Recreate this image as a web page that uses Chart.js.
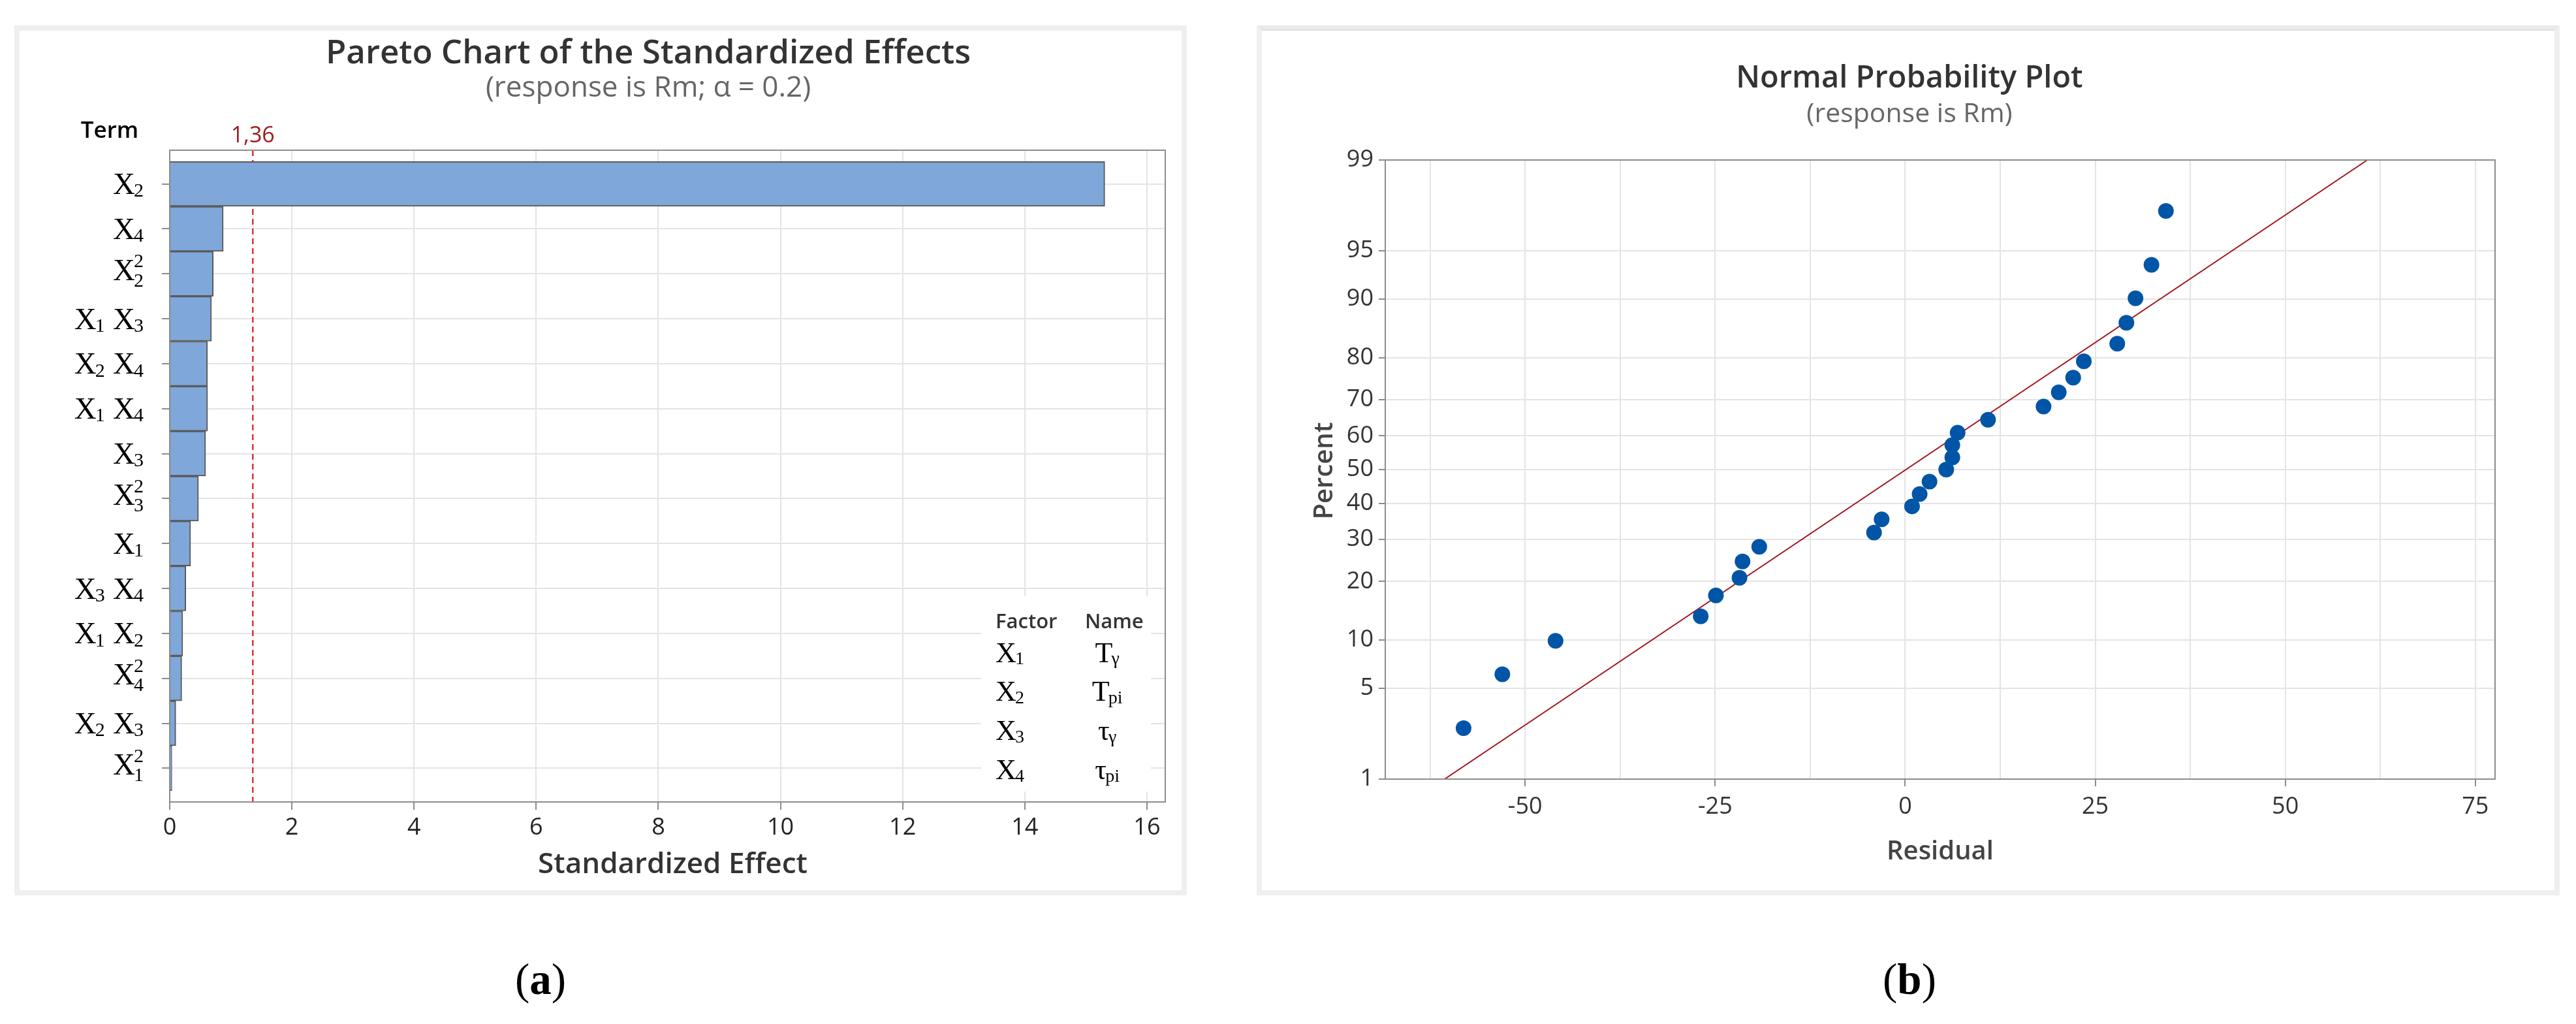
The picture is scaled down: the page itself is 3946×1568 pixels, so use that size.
<!DOCTYPE html>
<html>
<head>
<meta charset="utf-8">
<script src="https://cdn.jsdelivr.net/npm/chart.js@4.4.1/dist/chart.umd.min.js"></script>
<style>
  body { margin: 0; width: 3946px; height: 1568px; background: #fff; position: relative; overflow: hidden; }
  .panel { position: absolute; top: 39px; height: 1332px; border: 8px solid #efefef; box-sizing: border-box; background: #fff; }
  .holder { position: absolute; top: 47px; height: 1316px; }
  .caption { position: absolute; top: 1466px; font: 67px/67px "Liberation Serif", serif; transform: translateX(-50%); color: #000; }
</style>
</head>
<body>
<div class="panel" style="left:22px; width:1796px;"></div>
<div class="panel" style="left:1925px; width:1996px; border-top-color:#e9e9e9;"></div>
<div class="holder" style="left:30px; width:1780px;"><canvas id="pareto"></canvas></div>
<div class="holder" style="left:1933px; width:1980px; border-top:2px solid #dedede; top:45px;"><canvas id="normal"></canvas></div>
<div class="caption" style="left:828px;">(<b>a</b>)</div>
<div class="caption" style="left:2925px;">(<b>b</b>)</div>

<script>
// ============================================================
// (a) Pareto chart of the standardized effects
// Term labels use a tiny syntax: "X_2^2" = X, subscript 2, superscript 2
// ============================================================
const TERMS = ["X_2", "X_4", "X_2^2", "X_1 X_3", "X_2 X_4", "X_1 X_4", "X_3",
               "X_3^2", "X_1", "X_3 X_4", "X_1 X_2", "X_4^2", "X_2 X_3", "X_1^2"];
const EFFECTS = [15.31, 0.877, 0.713, 0.684, 0.617, 0.62, 0.588,
                 0.471, 0.342, 0.264, 0.214, 0.197, 0.10, 0.036];
const EFFECT_TICKS = [0, 2, 4, 6, 8, 10, 12, 14, 16];
const CRITICAL_EFFECT = 1.36;
const FACTORS = ["X_1", "X_2", "X_3", "X_4"];
const FACTOR_NAMES = ["T_γ", "T_pi", "τ_γ", "τ_pi"];

// ============================================================
// (b) Normal probability plot of the residuals
// ============================================================
const RESIDUALS = [-58.1, -53.0, -46.0, -26.9, -24.9, -21.8, -21.4, -19.2, -4.1, -3.1,
                   0.9, 1.9, 3.2, 5.4, 6.2, 6.2, 6.9, 10.9, 18.2, 20.2,
                   22.1, 23.5, 27.9, 29.1, 30.3, 32.4, 34.3];
const PERCENTS = [2.6, 6.2, 9.9, 13.5, 17.2, 20.8, 24.5, 28.1, 31.8, 35.4,
                  39.1, 42.7, 46.4, 50.0, 53.6, 57.3, 60.9, 64.6, 68.2, 71.9,
                  75.5, 79.2, 82.8, 86.5, 90.1, 93.8, 97.4];
const FIT_RESIDUALS = [-60.6, 60.8];
const FIT_PERCENTS = [1, 99];
const RESIDUAL_TICKS = [-62.5, -50, -37.5, -25, -12.5, 0, 12.5, 25, 37.5, 50, 62.5, 75];
const PERCENT_TICKS = [1, 5, 10, 20, 30, 40, 50, 60, 70, 80, 90, 95, 99];

const SANS = "'Open Sans', 'Noto Sans', sans-serif";
const SERIF = "'Liberation Serif', 'DejaVu Serif', serif";
const GRID = "#e4e4e4";
const AXIS = "#8c8c8c";

// ------------------------------------------------------------
// Inverse normal CDF (Acklam). Used by the probability axis.
// ------------------------------------------------------------
function probit(p) {
  const a = [-3.969683028665376e+01, 2.209460984245205e+02, -2.759285104469687e+02, 1.383577518672690e+02, -3.066479806614716e+01, 2.506628277459239e+00];
  const b = [-5.447609879822406e+01, 1.615858368580409e+02, -1.556989798598866e+02, 6.680131188771972e+01, -1.328068155288572e+01];
  const c = [-7.784894002430293e-03, -3.223964580411365e-01, -2.400758277161838e+00, -2.549732539343734e+00, 4.374664141464968e+00, 2.938163982698783e+00];
  const d = [7.784695709041462e-03, 3.224671290700398e-01, 2.445134137142996e+00, 3.754408661907416e+00];
  const lo = 0.02425;
  if (p < lo) {
    const q = Math.sqrt(-2 * Math.log(p));
    return (((((c[0]*q+c[1])*q+c[2])*q+c[3])*q+c[4])*q+c[5]) / ((((d[0]*q+d[1])*q+d[2])*q+d[3])*q+1);
  }
  if (p > 1 - lo) {
    const q = Math.sqrt(-2 * Math.log(1 - p));
    return -(((((c[0]*q+c[1])*q+c[2])*q+c[3])*q+c[4])*q+c[5]) / ((((d[0]*q+d[1])*q+d[2])*q+d[3])*q+1);
  }
  const q = p - 0.5, r = q * q;
  return (((((a[0]*r+a[1])*r+a[2])*r+a[3])*r+a[4])*r+a[5])*q / (((((b[0]*r+b[1])*r+b[2])*r+b[3])*r+b[4])*r+1);
}

// A Minitab-style "normal probability" axis: values are percents,
// but the distance on screen follows the normal quantile.
class ProbitScale extends Chart.Scale {
  static id = "probit";
  static defaults = {};
  determineDataLimits() {
    this.min = this.options.min;
    this.max = this.options.max;
  }
  buildTicks() {
    return PERCENT_TICKS.map(v => ({ value: v }));
  }
  configure() {
    super.configure();
    this._zMin = probit(this.min / 100);
    this._zRange = probit(this.max / 100) - this._zMin;
  }
  getLabelForValue(v) { return String(v); }
  getPixelForValue(v) {
    return this.getPixelForDecimal((probit(v / 100) - this._zMin) / this._zRange);
  }
  getValueForPixel() { return NaN; }
}
Chart.register(ProbitScale);

// ------------------------------------------------------------
// Draw a term like "X_1 X_3" or "X_2^2" with real sub/superscripts
// ------------------------------------------------------------
function parseTerm(text) {
  return text.split(" ").map(tok => {
    const [main, sup = ""] = tok.split("^");
    const [base, sub = ""] = main.split("_");
    return { base, sub, sup };
  });
}

function drawTerm(ctx, text, x, yMid, align, bigPx, smallPx) {
  const parts = parseTerm(text);
  const bigFont = `${bigPx}px ${SERIF}`;
  const smallFont = `${smallPx}px ${SERIF}`;
  const gap = bigPx * 0.22;
  const stacked = parts.some(p => p.sup);
  const baseline = yMid + bigPx * (stacked ? 0.2 : 0.33);

  const widths = parts.map(p => {
    ctx.font = bigFont;
    const wb = ctx.measureText(p.base).width;
    ctx.font = smallFont;
    return wb + Math.max(ctx.measureText(p.sub).width, ctx.measureText(p.sup).width);
  });
  const total = widths.reduce((s, w) => s + w, 0) + gap * (parts.length - 1);
  let cx = align === "right" ? x - total : align === "center" ? x - total / 2 : x;

  ctx.save();
  ctx.fillStyle = "#000";
  ctx.textAlign = "left";
  ctx.textBaseline = "alphabetic";
  parts.forEach((p, i) => {
    ctx.font = bigFont;
    ctx.fillText(p.base, cx, baseline);
    const wb = ctx.measureText(p.base).width - bigPx * 0.04;
    ctx.font = smallFont;
    if (p.sup) {
      ctx.fillText(p.sup, cx + wb, baseline - bigPx * 0.41);
      ctx.fillText(p.sub, cx + wb, baseline + bigPx * 0.22);
    } else if (p.sub) {
      ctx.fillText(p.sub, cx + wb, baseline + bigPx * 0.09);
    }
    cx += widths[i] + gap;
  });
  ctx.restore();
}

function text(ctx, str, x, y, font, color, align = "center") {
  ctx.save();
  ctx.font = font;
  ctx.fillStyle = color;
  ctx.textAlign = align;
  ctx.textBaseline = "alphabetic";
  ctx.fillText(str, x, y);
  ctx.restore();
}

function frame(ctx, area) {
  ctx.save();
  ctx.strokeStyle = AXIS;
  ctx.lineWidth = 2;
  ctx.strokeRect(area.left, area.top, area.right - area.left, area.bottom - area.top);
  ctx.restore();
}

// ------------------------------------------------------------
// Extra drawing for the Pareto chart
// ------------------------------------------------------------
const paretoDecor = {
  id: "paretoDecor",
  beforeDatasetsDraw(chart) {
    const { ctx, chartArea, scales } = chart;
    const x = scales.x.getPixelForValue(CRITICAL_EFFECT);
    ctx.save();
    ctx.strokeStyle = "#dd3333";
    ctx.lineWidth = 2.5;
    ctx.setLineDash([9, 6]);
    ctx.beginPath();
    ctx.moveTo(x, chartArea.top);
    ctx.lineTo(x, chartArea.bottom);
    ctx.stroke();
    ctx.restore();
  },
  afterDraw(chart) {
    const { ctx, chartArea: a, scales } = chart;
    frame(ctx, a);

    text(ctx, "Pareto Chart of the Standardized Effects", 963, 50, `600 51px ${SANS}`, "#333");
    text(ctx, "(response is Rm; α = 0.2)", 963, 101, `44px ${SANS}`, "#666");
    text(ctx, "Term", 138, 164, `600 35px ${SANS}`, "#000");
    text(ctx, String(CRITICAL_EFFECT).replace(".", ","), scales.x.getPixelForValue(CRITICAL_EFFECT), 171,
         `34px ${SANS}`, "#9e1b1b");
    text(ctx, "Standardized Effect", (a.left + a.right) / 2 + 8, 1290, `600 44px ${SANS}`, "#333");

    // term names next to the y ticks
    TERMS.forEach((t, i) => drawTerm(ctx, t, a.left - 38, scales.y.getPixelForValue(i), "right", 47, 30));

    // factor / name key in the lower right corner
    const bx = a.right - 282, by = a.bottom - 315;
    ctx.save();
    ctx.fillStyle = "#fff";
    ctx.fillRect(bx, by, 260, 299);
    ctx.restore();
    text(ctx, "Factor", a.right - 260, a.bottom - 266, `600 31px ${SANS}`, "#333", "left");
    text(ctx, "Name", a.right - 123, a.bottom - 266, `600 31px ${SANS}`, "#333", "left");
    FACTORS.forEach((f, i) => {
      const y = a.bottom - 229 + i * 59.7;
      drawTerm(ctx, f, a.right - 260, y, "left", 44, 28);
      drawTerm(ctx, FACTOR_NAMES[i], a.right - 88, y, "center", 44, 28);
    });
  }
};

// ------------------------------------------------------------
// Extra drawing for the normal probability plot
// ------------------------------------------------------------
const normalDecor = {
  id: "normalDecor",
  afterDraw(chart) {
    const { ctx, chartArea: a } = chart;
    frame(ctx, a);
    text(ctx, "Normal Probability Plot", 992, 87, `600 47px ${SANS}`, "#333");
    text(ctx, "(response is Rm)", 992, 140, `41px ${SANS}`, "#666");
    text(ctx, "Residual", (a.left + a.right) / 2, 1269, `600 40px ${SANS}`, "#444");
    ctx.save();
    ctx.translate(108, (a.top + a.bottom) / 2 + 2);
    ctx.rotate(-Math.PI / 2);
    text(ctx, "Percent", 0, 0, `600 40px ${SANS}`, "#444");
    ctx.restore();
  }
};

const baseOptions = {
  responsive: true,
  maintainAspectRatio: false,
  animation: false,
  devicePixelRatio: 1,
  plugins: { legend: { display: false }, tooltip: { enabled: false } },
};

// ---------------- (a) ----------------
new Chart(document.getElementById("pareto"), {
  type: "bar",
  data: {
    datasets: [{
      data: EFFECTS.map((v, i) => ({ x: v, y: i })),
      backgroundColor: "#7fa7d9",
      borderColor: "#5a5a5a",
      borderWidth: 2,
      barPercentage: 1,
      categoryPercentage: 1,
    }],
  },
  options: {
    ...baseOptions,
    indexAxis: "y",
    layout: { padding: { top: 183, right: 25, left: 0, bottom: 0 } },
    scales: {
      x: {
        type: "linear", min: 0, max: 16.3,
        afterBuildTicks: s => { s.ticks = EFFECT_TICKS.map(v => ({ value: v })); },
        afterFit: s => { s.height = 135; },
        grid: { color: GRID, lineWidth: 2, tickLength: 12, tickColor: AXIS, tickWidth: 2 },
        border: { color: AXIS, width: 2 },
        ticks: { font: { family: SANS, size: 36 }, color: "#222", padding: 6, maxRotation: 0, autoSkip: false },
      },
      y: {
        type: "linear", min: -0.75, max: 13.75, reverse: true, offset: false,
        afterBuildTicks: s => { s.ticks = TERMS.map((t, i) => ({ value: i })); },
        afterFit: s => { s.width = 230; },
        grid: { color: GRID, lineWidth: 2, tickLength: 12, tickColor: AXIS, tickWidth: 2, offset: false },
        border: { color: AXIS, width: 2 },
        ticks: { display: false },
      },
    },
  },
  plugins: [paretoDecor],
});

// ---------------- (b) ----------------
new Chart(document.getElementById("normal"), {
  type: "scatter",
  data: {
    datasets: [
      {
        data: RESIDUALS.map((r, i) => ({ x: r, y: PERCENTS[i] })),
        backgroundColor: "#0055a6",
        borderWidth: 0,
        pointRadius: 12,
      },
      {
        type: "line",
        data: FIT_RESIDUALS.map((r, i) => ({ x: r, y: FIT_PERCENTS[i] })),
        borderColor: "#a3151c",
        borderWidth: 2,
        pointRadius: 0,
        fill: false,
      },
    ],
  },
  options: {
    ...baseOptions,
    layout: { padding: { top: 198, right: 91, left: 0, bottom: 0 } },
    scales: {
      x: {
        type: "linear", min: -68.4, max: 77.6,
        afterBuildTicks: s => { s.ticks = RESIDUAL_TICKS.map(v => ({ value: v })); },
        afterFit: s => { s.height = 170; },
        grid: {
          color: GRID, lineWidth: 2, tickLength: 11, tickWidth: 2,
          tickColor: c => (c.tick && c.tick.value % 25 === 0 ? AXIS : "rgba(0,0,0,0)"),
        },
        border: { color: AXIS, width: 2 },
        ticks: {
          font: { family: SANS, size: 36 }, color: "#333", padding: 10, maxRotation: 0, autoSkip: false,
          callback: v => (v % 25 === 0 ? String(v) : ""),
        },
      },
      y: {
        type: "probit", min: 1, max: 99,
        afterFit: s => { s.width = 189; },
        grid: { color: GRID, lineWidth: 2, tickLength: 10, tickColor: AXIS, tickWidth: 2 },
        border: { color: AXIS, width: 2 },
        ticks: { font: { family: SANS, size: 36 }, color: "#333", padding: 8, autoSkip: false },
      },
    },
  },
  plugins: [normalDecor],
});
</script>
</body>
</html>
